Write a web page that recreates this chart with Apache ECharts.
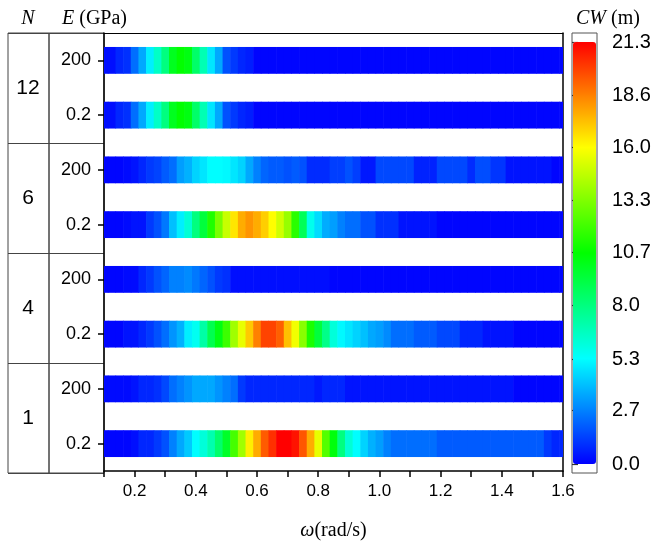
<!DOCTYPE html>
<html><head><meta charset="utf-8">
<script src="https://cdn.jsdelivr.net/npm/echarts@6/dist/echarts.min.js"></script>
<style>html,body{margin:0;padding:0;background:#fff}#c{width:654px;height:546px}</style>
</head><body><div id="c"></div>
<script>
// ---- data ----
const omega = [0.1,0.125,0.15,0.175,0.2,0.225,0.25,0.275,0.3,0.325,0.35,0.375,0.4,0.425,0.45,0.475,0.5,0.525,0.55,0.575,
  0.6,0.625,0.65,0.675,0.7,0.725,0.75,0.775,0.8,0.825,0.85,0.875,0.9,0.925,0.95,0.975,1.0,1.025,1.05,1.075,
  1.1,1.125,1.15,1.175,1.2,1.225,1.25,1.275,1.3,1.325,1.35,1.375,1.4,1.425,1.45,1.475,1.5,1.525,1.55,1.575,1.6];
const nGroups = ['1','4','6','12'];          // bottom to top
const eLabels = ['0.2','200'];               // within each group, bottom to top
const cbTicks = [0.0,2.7,5.3,8.0,10.7,13.3,16.0,18.6,21.3];

const cw_N12_E200 = [0.3,0.3,0.8,1.0,2.3,3.5,5.0,6.5,8.0,10.0, 10.7,10.3,8.5,6.9,4.8,3.5,1.7,1.2,0.8,0.6,
  0.1,0.1,0.1,0.1,0.1,0.1,0.1,0.1,0.1,0.1, 0.1,0.1,0.1,0.1,0.1,0.1,0.1,0.1,0.1,0.1,
  0.1,0.1,0.1,0.1,0.1,0.1,0.1,0.1,0.1,0.1, 0.1,0.1,0.1,0.1,0.1,0.1,0.1,0.1,0.1,0.1, 0.1];
const cw_N12_E02 = [0.3,0.3,0.8,1.0,2.3,3.5,5.0,6.5,8.0,10.0, 10.7,10.3,8.5,6.9,4.8,3.5,1.7,1.2,0.8,0.6,
  0.1,0.1,0.1,0.1,0.1,0.1,0.1,0.1,0.1,0.1, 0.1,0.1,0.1,0.1,0.1,0.1,0.1,0.1,0.1,0.1,
  0.1,0.1,0.1,0.1,0.1,0.1,0.1,0.1,0.1,0.1, 0.1,0.1,0.1,0.1,0.1,0.1,0.1,0.1,0.1,0.1, 0.1];
const cw_N6_E200 = [0.1,0.1,0.1,0.2,0.4,0.8,1.2,1.4,1.9,2.3, 3.3,3.7,4.4,4.8,5.3,5.3,5.2,4.8,4.4,3.5,
  2.7,2.1,1.9,1.9,1.7,1.9,1.7,0.9,0.9,0.9, 1.3,1.3,1.7,1.3,0.5,0.5,1.5,1.5,1.5,1.5,
  1.5,0.7,0.7,0.7,1.5,1.5,1.5,1.5,0.9,1.6, 1.6,1.1,1.1,0.4,0.4,0.4,0.4,0.4,0.4,0.1, 0.1];
const cw_N6_E02 = [0.1,0.1,0.1,0.2,0.4,0.4,1.2,1.7,2.5,4.0, 5.0,6.2,8.0,9.4,11.3,13.2,14.8,16.5,17.7,18.2,
  17.7,17.0,16.0,15.0,13.8,11.5,8.8,5.7,4.6,3.6, 3.3,2.7,2.3,2.3,1.7,1.7,1.0,1.0,1.0,0.4,
  0.4,0.4,0.4,0.4,0.1,0.1,0.1,0.1,0.1,0.1, 0.1,0.1,0.1,0.1,0.1,0.1,0.1,0.1,0.1,0.1, 0.1];
const cw_N4_E200 = [0.1,0.1,0.1,0.2,0.2,0.8,1.2,1.7,2.1,2.7, 2.7,2.9,2.5,2.1,1.7,1.2,1.0,0.3,0.3,0.3,
  0.3,0.3,0.3,0.3,0.3,0.3,0.3,0.3,0.3,0.3, 0.1,0.1,0.1,0.1,0.1,0.1,0.1,0.1,0.1,0.1,
  0.1,0.1,0.1,0.1,0.1,0.1,0.1,0.1,0.1,0.1, 0.1,0.1,0.1,0.1,0.1,0.1,0.1,0.1,0.1,0.1, 0.1];
const cw_N4_E02 = [0.1,0.1,0.1,0.4,0.4,0.8,1.2,1.7,2.3,3.1, 3.7,5.0,5.6,7.2,9.0,10.3,11.9,14.0,15.5,17.1,
  18.6,19.9,19.9,19.3,17.3,15.7,13.5,11.2,9.4,7.8, 6.1,5.2,4.8,4.4,4.0,3.5,3.3,2.9,2.3,2.3,
  2.3,1.9,1.9,1.9,1.5,1.5,1.5,0.8,0.8,0.8, 0.4,0.4,0.4,0.4,0.1,0.1,0.1,0.1,0.1,0.1, 0.1];
const cw_N1_E200 = [0.2,0.2,0.2,0.2,0.4,0.8,0.8,1.0,1.5,2.3, 2.7,3.1,3.5,3.5,3.5,3.1,2.7,2.3,1.2,0.8,
  0.8,0.8,0.8,0.8,0.8,0.8,0.8,0.8,0.5,0.8, 0.8,0.8,0.4,0.4,0.4,0.4,0.4,0.4,0.4,0.4,
  0.4,0.4,0.4,0.4,0.4,0.4,0.4,0.4,0.4,0.4, 0.4,0.4,0.4,0.4,0.1,0.1,0.1,0.1,0.1,0.1, 0.1];
const cw_N1_E02 = [0.1,0.1,0.1,0.1,0.3,0.8,0.8,1.2,1.7,2.7, 3.5,4.2,5.3,6.1,7.0,8.4,9.8,12.1,14.0,16.3,
  17.7,19.4,20.3,21.3,21.3,20.9,19.5,17.7,15.5,12.4, 10.4,8.0,6.2,5.3,4.4,3.7,3.3,2.7,2.3,2.3,
  2.3,2.3,2.3,2.3,1.9,1.9,1.9,1.9,1.9,1.9, 1.9,1.9,1.9,1.9,1.9,1.9,1.9,1.9,1.2,0.8, 0.8];

// rows bottom -> top
const rowSeries = [cw_N1_E02, cw_N1_E200, cw_N4_E02, cw_N4_E200, cw_N6_E02, cw_N6_E200, cw_N12_E02, cw_N12_E200];
const CELL_W = 0.025;
const CW_MIN = 0, CW_MAX = 21.3;

// ---- build ----
const rowKeys = [];
nGroups.forEach(n => eLabels.forEach(e => rowKeys.push(n + '|' + e)));
const data = [];
rowSeries.forEach((vals, r) => vals.forEach((v, k) => data.push([omega[k], r, v])));

const SANS = '"Liberation Sans", Arial, sans-serif';
const SERIF = '"Liberation Serif", "Times New Roman", serif';

function renderCell(params, api) {
  const x = api.value(0), y = api.value(1);
  const p0 = api.coord([x - CELL_W / 2, y]);
  const p1 = api.coord([x + CELL_W / 2, y]);
  const h = api.size([0, 1])[1] * 0.49;
  const shape = echarts.graphic.clipRectByRect(
    { x: p0[0], y: p0[1] - h / 2, width: p1[0] - p0[0] + 0.6, height: h },
    { x: params.coordSys.x, y: params.coordSys.y, width: params.coordSys.width, height: params.coordSys.height }
  );
  return shape && { type: 'rect', shape: shape, style: { fill: api.visual('color') } };
}

const chart = echarts.init(document.getElementById('c'));
const axisBlack = { show: true, lineStyle: { color: '#000', width: 1.5 } };
const option = {
  animation: false,
  backgroundColor: '#fff',
  grid: [
    { left: 104, right: 91, top: 33, bottom: 73 },
    { left: 8, width: 41, top: 33, bottom: 73, show: true, borderColor: '#444', borderWidth: 1 },
    { left: 49, width: 55, top: 33, bottom: 73, show: true, borderColor: '#444', borderWidth: 1 },
    { left: 572, width: 25, top: 33, bottom: 73, show: true, borderColor: '#555', borderWidth: 1 }
  ],
  xAxis: [
    { gridIndex: 0, type: 'value', min: 0.1, max: 1.6, interval: 0.1,
      axisLine: axisBlack, axisTick: { show: true, length: 6, lineStyle: { color: '#000', width: 1.5 } },
      axisLabel: { color: '#000', fontFamily: SANS, fontSize: 17, margin: 12,
        formatter: v => (Math.round(v * 10) % 2 === 0 ? v.toFixed(1) : '') },
      splitLine: { show: false },
      name: '{i|ω}(rad/s)', nameLocation: 'middle', nameGap: 50,
      nameTextStyle: { color: '#000', fontFamily: SERIF, fontSize: 20,
        rich: { i: { fontFamily: SERIF, fontStyle: 'italic', fontSize: 20, color: '#000' } } } },
    { gridIndex: 0, type: 'value', position: 'top', min: 0.1, max: 1.6,
      axisLine: { show: true, lineStyle: { color: '#000', width: 1 } }, axisTick: { show: false },
      axisLabel: { show: false }, splitLine: { show: false } },
    { gridIndex: 1, type: 'value', show: false },
    { gridIndex: 2, type: 'value', show: false },
    { gridIndex: 3, type: 'value', show: false }
  ],
  yAxis: [
    { gridIndex: 0, type: 'category', data: rowKeys,
      axisLine: axisBlack, axisTick: { show: true, alignWithLabel: true, length: 6, lineStyle: { color: '#000', width: 1.5 } },
      axisLabel: { color: '#000', fontFamily: SANS, fontSize: 18, margin: 13, formatter: v => v.split('|')[1] },
      splitLine: { show: false } },
    { gridIndex: 0, type: 'category', data: rowKeys, position: 'right',
      axisLine: { show: true, lineStyle: { color: '#000', width: 1.5 } }, axisTick: { show: false },
      axisLabel: { show: false } },
    { gridIndex: 1, type: 'category', data: nGroups,
      axisLine: { show: false }, axisTick: { show: false },
      axisLabel: { inside: true, margin: 20, align: 'center', color: '#000', fontFamily: SANS, fontSize: 21 },
      splitLine: { show: true, interval: 0, lineStyle: { color: '#444', width: 1 } } },
    { gridIndex: 2, type: 'category', data: nGroups,
      axisLine: { show: false }, axisTick: { show: false }, axisLabel: { show: false },
      splitLine: { show: true, interval: 0, lineStyle: { color: '#444', width: 1 } } },
    { gridIndex: 3, type: 'value', position: 'right', min: -0.454, max: 21.756,
      axisLine: { show: false },
      axisTick: { show: true, customValues: cbTicks, length: 6, lineStyle: { color: '#333', width: 1.2 } },
      axisLabel: { customValues: cbTicks, formatter: v => v.toFixed(1), color: '#000', fontFamily: SANS, fontSize: 20, margin: 15 },
      splitLine: { show: false } }
  ],
  visualMap: {
    type: 'continuous', min: CW_MIN, max: CW_MAX, dimension: 2, seriesIndex: 0,
    orient: 'vertical', left: 573, top: 42, itemWidth: 23, itemHeight: 422,
    calculable: false, padding: 0, hoverLink: false,
    inRange: { color: ['#0000ff', '#00ffff', '#00ff00', '#ffff00', '#ff0000'] }
  },
  graphic: [
    { type: 'text', x: 28, y: 19, style: { text: 'N', font: 'italic 20px "Liberation Serif"', fill: '#000', align: 'center', verticalAlign: 'middle' } },
    { type: 'text', x: 62, y: 19, style: { text: '{i|E} (GPa)', font: '20px "Liberation Serif"', fill: '#000', align: 'left', verticalAlign: 'middle',
        rich: { i: { font: 'italic 20px "Liberation Serif"', fill: '#000' } } } },
    { type: 'text', x: 576, y: 19, style: { text: '{i|CW} (m)', font: '20px "Liberation Serif"', fill: '#000', align: 'left', verticalAlign: 'middle',
        rich: { i: { font: 'italic 20px "Liberation Serif"', fill: '#000' } } } }
  ],
  series: [{
    type: 'custom', xAxisIndex: 0, yAxisIndex: 0, renderItem: renderCell,
    encode: { x: 0, y: 1 }, data: data
  }]
};
chart.setOption(option);
</script>
</body></html>
